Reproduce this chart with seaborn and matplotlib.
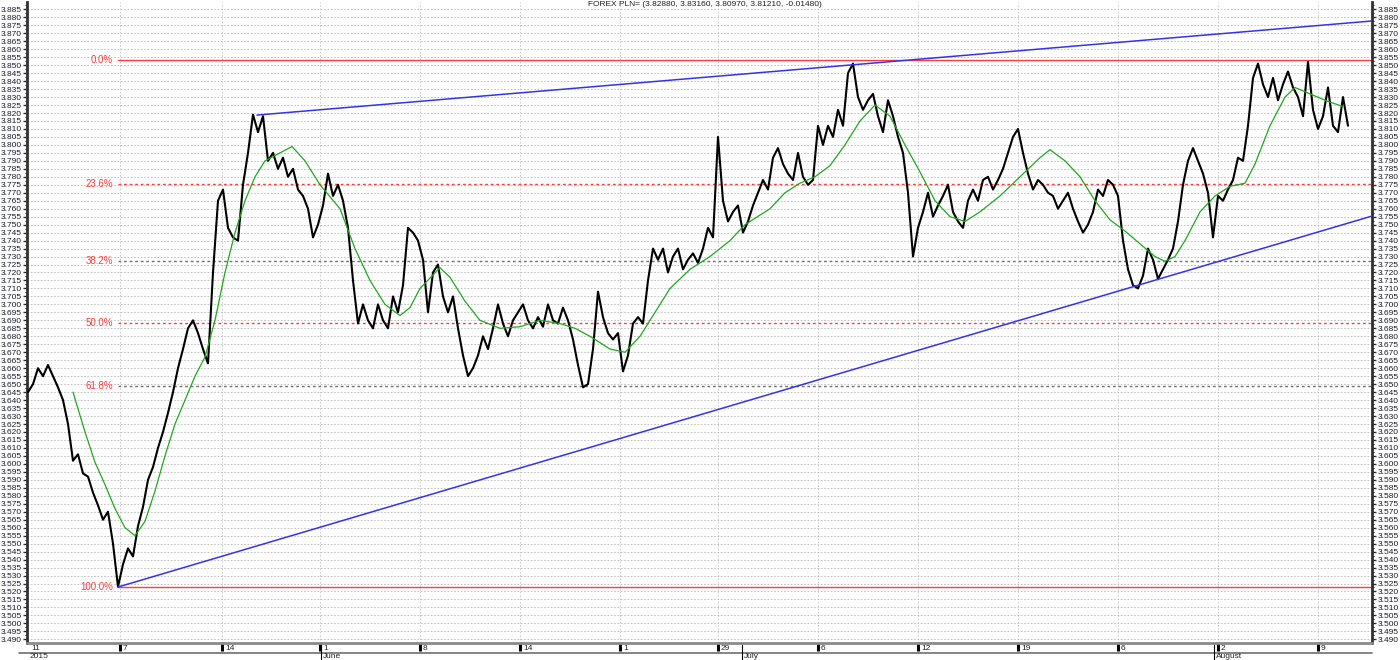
import matplotlib
matplotlib.use("Agg")
import matplotlib.pyplot as plt
import matplotlib.transforms as mtransforms
from matplotlib.ticker import MultipleLocator, FormatStrFormatter
import numpy as np
import pandas as pd
import seaborn as sns

title = "FOREX PLN= (3.82880, 3.83160, 3.80970, 3.81210, -0.01480)"

# close prices, one sample every 5 bars starting at bar 0
price_step = 5
price = [
    3.645, 3.650, 3.660, 3.655, 3.662, 3.655, 3.648, 3.640, 3.625, 3.602,
    3.606, 3.594, 3.592, 3.582, 3.574, 3.565, 3.570, 3.550, 3.523, 3.537,
    3.547, 3.542, 3.561, 3.573, 3.590, 3.598, 3.610, 3.620, 3.632, 3.645,
    3.660, 3.672, 3.685, 3.690, 3.682, 3.672, 3.663, 3.720, 3.765, 3.772,
    3.748, 3.742, 3.740, 3.775, 3.795, 3.819, 3.808, 3.818, 3.790, 3.795,
    3.785, 3.792, 3.780, 3.785, 3.772, 3.768, 3.760, 3.742, 3.750, 3.762,
    3.782, 3.768, 3.775, 3.765, 3.748, 3.715, 3.688, 3.700, 3.690, 3.685,
    3.700, 3.690, 3.685, 3.705, 3.695, 3.712, 3.748, 3.745, 3.740, 3.728,
    3.695, 3.720, 3.725, 3.705, 3.695, 3.705, 3.685, 3.668, 3.655, 3.660,
    3.668, 3.680, 3.672, 3.685, 3.700, 3.688, 3.680, 3.690, 3.695, 3.700,
    3.690, 3.685, 3.692, 3.686, 3.700, 3.690, 3.688, 3.698, 3.690, 3.678,
    3.662, 3.648, 3.650, 3.672, 3.708, 3.692, 3.682, 3.678, 3.682, 3.658,
    3.668, 3.688, 3.692, 3.688, 3.715, 3.735, 3.728, 3.735, 3.720, 3.730,
    3.735, 3.722, 3.728, 3.732, 3.726, 3.735, 3.748, 3.742, 3.805, 3.765,
    3.752, 3.758, 3.762, 3.745, 3.752, 3.762, 3.770, 3.778, 3.772, 3.792,
    3.798, 3.788, 3.782, 3.778, 3.795, 3.780, 3.775, 3.778, 3.812, 3.800,
    3.812, 3.805, 3.822, 3.812, 3.845, 3.851, 3.830, 3.822, 3.828, 3.832,
    3.818, 3.808, 3.828, 3.818, 3.805, 3.795, 3.770, 3.730, 3.748, 3.758,
    3.770, 3.755, 3.762, 3.768, 3.775, 3.758, 3.752, 3.748, 3.765, 3.772,
    3.765, 3.778, 3.780, 3.772, 3.778, 3.785, 3.795, 3.805, 3.810, 3.795,
    3.782, 3.772, 3.778, 3.775, 3.770, 3.768, 3.760, 3.765, 3.770, 3.760,
    3.752, 3.745, 3.750, 3.758, 3.772, 3.768, 3.778, 3.775, 3.768, 3.740,
    3.722, 3.712, 3.710, 3.718, 3.735, 3.728, 3.716, 3.722, 3.728, 3.735,
    3.752, 3.775, 3.790, 3.798, 3.790, 3.782, 3.770, 3.742, 3.768, 3.765,
    3.772, 3.778, 3.792, 3.790, 3.812, 3.842, 3.851, 3.838, 3.830, 3.842,
    3.828, 3.838, 3.846, 3.836, 3.830, 3.818, 3.852, 3.822, 3.810, 3.818,
    3.836, 3.812, 3.808, 3.830, 3.812,
]

# moving average (green)
ma_bar = [45, 57, 67, 77, 87, 97, 107, 117, 127, 137, 147, 157, 167, 177,
          187, 197, 207, 217, 227, 237, 252, 264, 277, 292, 312, 327, 342,
          357, 372, 382, 392, 412, 422, 437, 452, 472, 492, 512, 532, 547,
          562, 582, 597, 612, 627, 642, 662, 682, 702, 717, 732, 742, 757,
          772, 787, 802, 817, 832, 847, 862, 877, 892, 907, 922, 937, 952,
          972, 992, 1012, 1022, 1037, 1052, 1067, 1082, 1097, 1112, 1127,
          1137, 1147, 1157, 1172, 1187, 1202, 1217, 1227, 1242, 1257, 1267,
          1282, 1297, 1315]
ma_val = [3.645, 3.620, 3.601, 3.587, 3.572, 3.560, 3.555, 3.564, 3.583,
          3.605, 3.625, 3.640, 3.655, 3.667, 3.690, 3.720, 3.745, 3.765,
          3.780, 3.790, 3.795, 3.799, 3.790, 3.775, 3.760, 3.735, 3.715,
          3.700, 3.693, 3.698, 3.710, 3.723, 3.717, 3.702, 3.690, 3.685,
          3.686, 3.690, 3.688, 3.685, 3.680, 3.672, 3.670, 3.680, 3.695,
          3.710, 3.722, 3.730, 3.740, 3.750, 3.756, 3.760, 3.770, 3.776,
          3.780, 3.787, 3.800, 3.815, 3.825, 3.818, 3.800, 3.783, 3.765,
          3.755, 3.752, 3.758, 3.768, 3.780, 3.792, 3.797, 3.790, 3.780,
          3.765, 3.753, 3.746, 3.738, 3.730, 3.727, 3.730, 3.740, 3.758,
          3.768, 3.774, 3.776, 3.788, 3.812, 3.830, 3.836, 3.832, 3.828,
          3.824]

# retracement between swing low and swing high
fib_pct = [0.0, 23.6, 38.2, 50.0, 61.8, 100.0]
fib_high = 3.8535
fib_low = 3.5228
fib_start = 90

lower_bar = [90, 1344]
lower_val = [3.5228, 3.7554]
upper_bar = [229, 1344]
upper_val = [3.8187, 3.8777]

tick_bars = [0, 92, 194, 292, 392, 492, 592, 690, 790, 890, 990, 1090, 1190, 1290]
tick_labels = ["11", "7", "14", "1", "8", "14", "1", "29", "6", "12", "19", "6", "2", "9"]
month_bars = [0, 293, 714, 1186]
month_labels = ["2015", "June", "July", "August"]

sns.set_theme(style="white")
plt.rcParams["font.family"] = ["Liberation Sans", "DejaVu Sans"]

fig = plt.figure(figsize=(14, 6.6), dpi=100)
ax = fig.add_axes([27 / 1400, 17 / 660, 1345 / 1400, 641 / 660])

df = pd.DataFrame({"bar": np.arange(len(price)) * price_step, "close": price})
ma = pd.DataFrame({"bar": ma_bar, "ma": ma_val})

sns.lineplot(data=ma, x="bar", y="ma", color="#1fa81f", lw=0.9, estimator=None, ax=ax, zorder=4)
sns.lineplot(data=df, x="bar", y="close", color="black", lw=1.5, estimator=None, ax=ax, zorder=3)
sns.lineplot(x=lower_bar, y=lower_val, color="#3333ee", lw=1.1, ax=ax, zorder=5)
sns.lineplot(x=upper_bar, y=upper_val, color="#3333ee", lw=1.1, ax=ax, zorder=5)

red = "#ff3b3b"
for p in fib_pct:
    lvl = fib_high - p / 100 * (fib_high - fib_low)
    if p in (0.0, 100.0):
        ax.plot([fib_start, 1344], [lvl, lvl], color=red, lw=1.0, zorder=2)
    elif p in (23.6, 50.0):
        ax.plot([fib_start, 1344], [lvl, lvl], color=red, lw=1.0, ls=(0, (2, 2)), zorder=2)
    else:
        ax.plot([fib_start, 1344], [lvl, lvl], color="#707070", lw=1.0, ls=(0, (2, 2)), zorder=2)
    ax.text(fib_start - 5, lvl, f"{p:.1f}%", color=red, fontsize=7, ha="right", va="center")

ax.set_xlim(-1, 1344)
ax.set_ylim(3.4877, 3.8896)
ax.set_xlabel("")
ax.set_ylabel("")

ax.yaxis.set_major_locator(MultipleLocator(0.005))
ax.yaxis.set_minor_locator(MultipleLocator(0.0025))
ax.yaxis.set_major_formatter(FormatStrFormatter("%.3f"))
ax.tick_params(axis="y", which="major", left=True, right=True, labelleft=True, labelright=True,
               length=3, width=1, pad=1, labelsize=6, color="#303030", labelcolor="#1a1a2a")
ax.tick_params(axis="y", which="minor", left=True, right=True, length=1.5, width=0.8, color="#303030")

ax.set_xticks(tick_bars[1:])
ax.tick_params(axis="x", bottom=True, direction="out", length=6, width=2.2, color="black", labelbottom=False)

ax.grid(axis="y", which="major", color="#b8b8b8", lw=0.6, ls=(0, (2, 2)))
ax.grid(axis="x", which="major", color="#c4c4c4", lw=0.6, ls=(0, (2, 2)))

for side in ("left", "right"):
    ax.spines[side].set_color("#303030")
    ax.spines[side].set_linewidth(2)
ax.spines["top"].set_visible(False)
ax.spines["bottom"].set_color("#8a8a8a")
ax.spines["bottom"].set_linewidth(2)

px = 1 / 641
trans = mtransforms.blended_transform_factory(ax.transData, ax.transAxes)
for b, lbl in zip(tick_bars, tick_labels):
    ax.text(b + 3, -5 * px, lbl, transform=trans, ha="left", va="center", fontsize=6, clip_on=False)
ax.plot([-0.006, 1], [-9.5 * px, -9.5 * px], transform=ax.transAxes, clip_on=False, color="#707070", lw=1.2)
for b, lbl in zip(month_bars, month_labels):
    if b > 0:
        ax.plot([b, b], [-1 * px, -17 * px], transform=trans, clip_on=False, color="black", lw=0.8)
    ax.text(b + 2, -13.5 * px, lbl, transform=trans, ha="left", va="center", fontsize=6, clip_on=False)

fig.text(705 / 1400, 1 - 5 / 660, title, ha="center", va="center", fontsize=6, color="#202020")

fig.savefig("out.png", dpi=100)
